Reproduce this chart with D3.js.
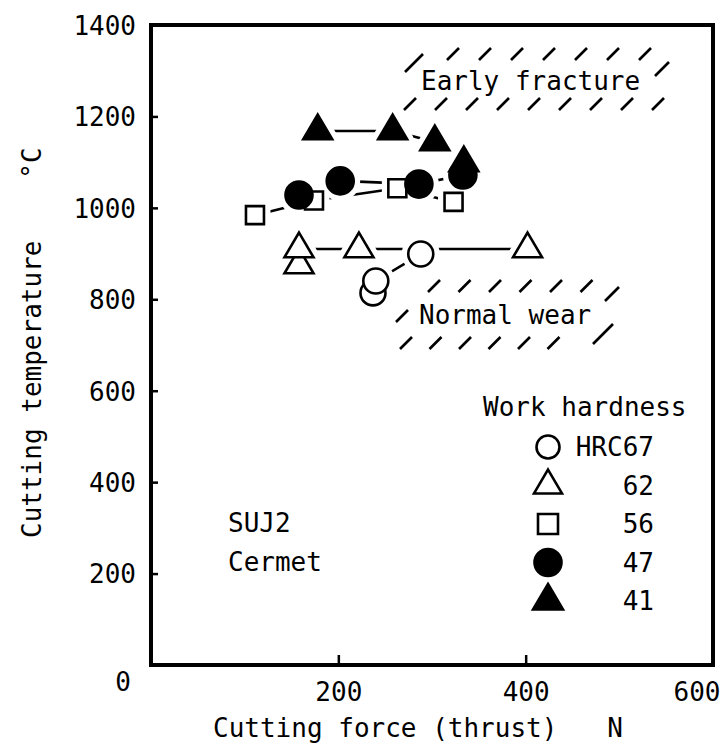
<!DOCTYPE html>
<html>
<head>
<meta charset="utf-8">
<script src="https://cdn.jsdelivr.net/npm/d3@7"></script>
<style>
  html, body { margin: 0; padding: 0; background: #fff; }
  svg { display: block; }
  text { font-family: "DejaVu Sans Mono", "Liberation Mono", monospace; fill: #000; }
</style>
</head>
<body>
<svg id="chart" width="721" height="750"></svg>
<script>
// Work hardness groups (legend order) and their markers
const groups = ["HRC67", "62", "56", "47", "41"];
const groupSymbols = ["circle", "triangle", "square", "circle", "triangle"];
const groupFilled = [false, false, false, true, true];

// Cutting force (thrust), N
const force67 = [237, 240, 288];
const force62 = [158, 158, 222, 402];
const force56 = [111, 174, 263, 323];
const force47 = [158, 202, 286, 333];
const force41 = [178, 258, 303, 334];

// Cutting temperature, °C
const temp67 = [814, 840, 899];
const temp62 = [875, 910, 910, 910];
const temp56 = [984, 1016, 1043, 1013];
const temp47 = [1028, 1059, 1052, 1072];
const temp41 = [1168, 1168, 1144, 1098];

// Axis ticks
const xTicks = [200, 400, 600];
const yTicks = [200, 400, 600, 800, 1000, 1200, 1400];

const seriesForce = [force67, force62, force56, force47, force41];
const seriesTemp = [temp67, temp62, temp56, temp47, temp41];

const FS = "26px";
const svg = d3.select("#chart");
const L = 151, R = 713, T = 25, B = 665;

const x = d3.scaleLinear().domain([0, 600]).range([L, R]);
const y = d3.scaleLinear().domain([0, 1400]).range([B, T]);

// ---- axes ----
const yAxis = d3.axisLeft(y).tickValues(yTicks).tickFormat(d3.format("d"))
  .tickSize(-7).tickPadding(15);
const gy = svg.append("g").attr("transform", `translate(${L},0)`).call(yAxis);
gy.select(".domain").remove();
gy.selectAll(".tick line").attr("stroke", "#000").attr("stroke-width", 2.5);
gy.selectAll(".tick text").style("font-size", FS).attr("dy", "0.36em");

const xAxis = d3.axisBottom(x).tickValues(xTicks).tickFormat(d3.format("d"))
  .tickSize(-10).tickPadding(18);
const gx = svg.append("g").attr("transform", `translate(0,${B})`).call(xAxis);
gx.select(".domain").remove();
gx.selectAll(".tick line").attr("stroke", "#000").attr("stroke-width", 2.5);
gx.selectAll(".tick text").style("font-size", FS);
gx.selectAll(".tick").filter(d => d === 600).select("line").remove();
gx.selectAll(".tick").filter(d => d === 600).select("text")
  .attr("text-anchor", "end").attr("x", 7);

// shared origin label
svg.append("text").attr("x", x(0) - 28).attr("y", y(0) + 17)
  .attr("text-anchor", "middle").attr("dy", "0.36em")
  .style("font-size", FS).text("0");

// plot frame
svg.append("rect").attr("x", L).attr("y", T)
  .attr("width", R - L).attr("height", B - T)
  .attr("fill", "none").attr("stroke", "#000").attr("stroke-width", 4);

// axis titles
svg.append("text").attr("x", 213).attr("y", 728).attr("dy", "0.36em")
  .style("font-size", FS).text("Cutting force (thrust)");
svg.append("text").attr("x", 615).attr("y", 728).attr("dy", "0.36em")
  .attr("text-anchor", "middle").style("font-size", FS).text("N");
svg.append("text").attr("transform", "translate(32,538) rotate(-90)")
  .attr("dy", "0.36em").style("font-size", FS).text("Cutting temperature");
svg.append("text").attr("transform", "translate(32,163) rotate(-90)")
  .attr("dy", "0.36em").attr("text-anchor", "middle")
  .style("font-size", FS).text("°C");

// ---- marker shapes ----
function shapePath(kind, s) {
  if (kind === "circle") {
    const r = s / 2;
    return `M${r},0A${r},${r} 0 1,1 ${-r},0A${r},${r} 0 1,1 ${r},0Z`;
  }
  if (kind === "square") {
    const h = s / 2;
    return `M${-h},${-h}H${h}V${h}H${-h}Z`;
  }
  // triangle: width s, height 0.85 s, centred on its centroid
  const w = s, hgt = s * 0.85;
  return `M0,${-hgt * 2 / 3}L${w / 2},${hgt / 3}L${-w / 2},${hgt / 3}Z`;
}
const markerSize = { circle: 25, square: 18, triangle: 29 };
const filledCircleSize = 27;

function sizeOf(i) {
  const k = groupSymbols[i];
  if (k === "circle" && groupFilled[i]) return filledCircleSize;
  return markerSize[k];
}

const plot = svg.append("g");
const line = d3.line().x(d => x(d[0])).y(d => y(d[1]));

// connecting lines
seriesForce.forEach((fs, i) => {
  const pts = fs.map((f, j) => [f, seriesTemp[i][j]]);
  plot.append("path").attr("d", line(pts))
    .attr("fill", "none").attr("stroke", "#000").attr("stroke-width", 2.6);
});

// white halos open small gaps in the lines around every marker
seriesForce.forEach((fs, i) => {
  fs.forEach((f, j) => {
    plot.append("path")
      .attr("transform", `translate(${x(f)},${y(seriesTemp[i][j])})`)
      .attr("d", shapePath(groupSymbols[i], sizeOf(i)))
      .attr("fill", "#fff").attr("stroke", "#fff").attr("stroke-width", 13)
      .attr("stroke-linejoin", "round");
  });
});

// markers
seriesForce.forEach((fs, i) => {
  fs.forEach((f, j) => {
    plot.append("path")
      .attr("transform", `translate(${x(f)},${y(seriesTemp[i][j])})`)
      .attr("d", shapePath(groupSymbols[i], sizeOf(i)))
      .attr("fill", groupFilled[i] ? "#000" : "#fff")
      .attr("stroke", "#000").attr("stroke-width", 2.6);
  });
});

// ---- hatched regime bands ----
function slash(g, cx, cy, h) {
  g.append("line").attr("x1", cx - h).attr("y1", cy + h)
    .attr("x2", cx + h).attr("y2", cy - h)
    .attr("stroke", "#000").attr("stroke-width", 2.6);
}
function hatchBand(x0, yTop, nTop, xb0, yBot, nBot, step, sides) {
  const g = svg.append("g");
  for (let k = 0; k < nTop; k++) slash(g, x0 + k * step, yTop, 6);
  for (let k = 0; k < nBot; k++) slash(g, xb0 + k * (step - 1), yBot, 6);
  sides.forEach(s => slash(g, s[0], s[1], s[2]));
}
// Early fracture band
hatchBand(453, 54, 7, 410, 104, 9, 32, [[414, 63, 9], [662, 69, 7]]);
svg.append("text").attr("x", 421).attr("y", 81).attr("dy", "0.36em")
  .style("font-size", FS).text("Early fracture");
// Normal wear band
hatchBand(434, 286, 6, 406, 343, 6, 30.5, [[402, 316, 6], [612, 294, 7], [603, 334, 10]]);
svg.append("text").attr("x", 419).attr("y", 315).attr("dy", "0.36em")
  .style("font-size", FS).text("Normal wear");

// material / tool note
svg.append("text").attr("x", 228).attr("y", 523).attr("dy", "0.36em")
  .style("font-size", FS).text("SUJ2");
svg.append("text").attr("x", 228).attr("y", 562).attr("dy", "0.36em")
  .style("font-size", FS).text("Cermet");

// ---- legend ----
const legend = svg.append("g");
legend.append("text").attr("x", 483).attr("y", 407).attr("dy", "0.36em")
  .style("font-size", FS).text("Work hardness");
const rowY = d3.scaleLinear().domain([0, 4]).range([447, 601]);
const legendSize = [23, 28, 20, 27, 30];
groups.forEach((gname, i) => {
  legend.append("path")
    .attr("transform", `translate(548,${rowY(i)})`)
    .attr("d", shapePath(groupSymbols[i], legendSize[i]))
    .attr("fill", groupFilled[i] ? "#000" : "#fff")
    .attr("stroke", "#000").attr("stroke-width", 2.6);
  legend.append("text").attr("x", 654).attr("y", rowY(i)).attr("dy", "0.36em")
    .attr("text-anchor", "end").style("font-size", FS).text(gname);
});
</script>
</body>
</html>
